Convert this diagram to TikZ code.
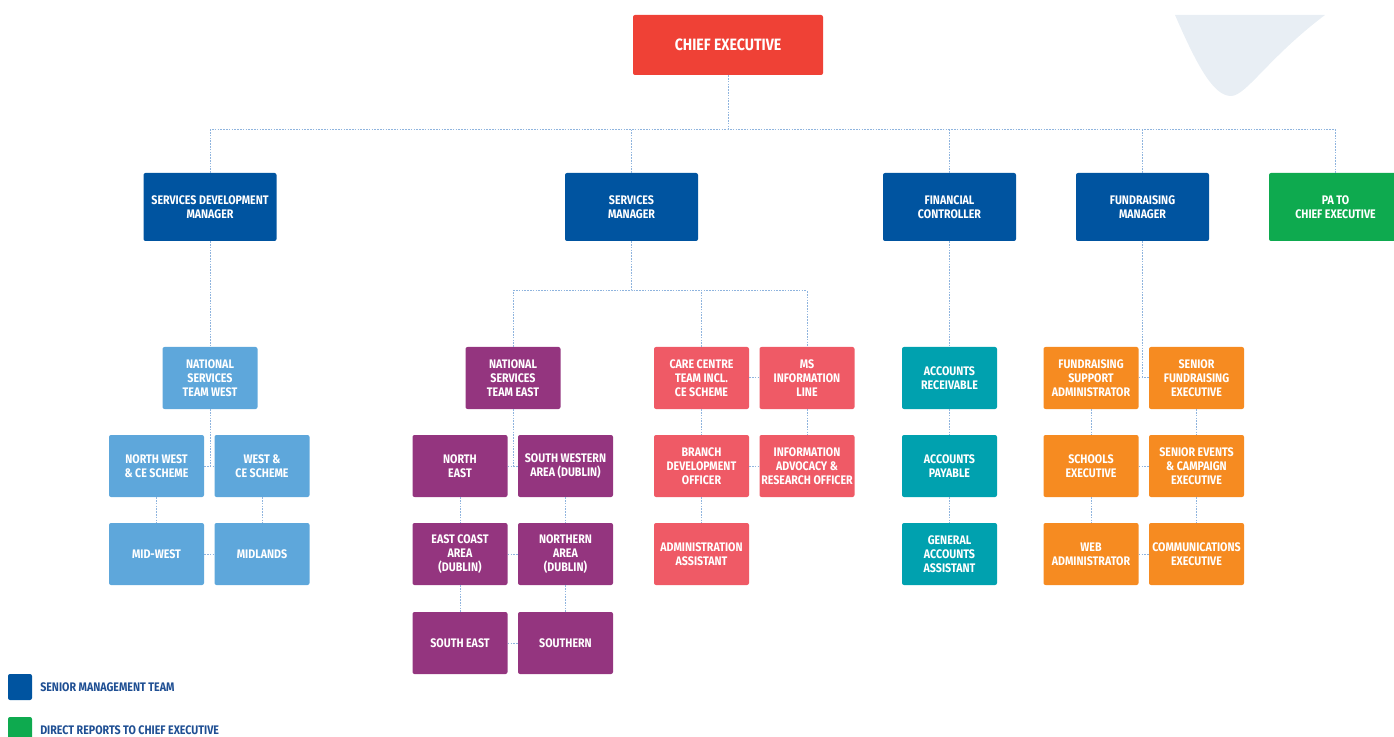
\documentclass[tikz,border=0pt]{standalone}
\usepackage{fontspec}
\usepackage{xcolor}
\newfontfamily\orgfont[FakeStretch=0.86]{Fira Sans}

\definecolor{ceRed}{HTML}{EF4136}
\definecolor{smtBlue}{HTML}{0054A0}
\definecolor{westBlue}{HTML}{5EA7DB}
\definecolor{eastPurple}{HTML}{94357F}
\definecolor{careRed}{HTML}{EF5A66}
\definecolor{finTeal}{HTML}{00A1AF}
\definecolor{fundOrange}{HTML}{F68B21}
\definecolor{paGreen}{HTML}{0EAA4F}
\definecolor{linkBlue}{HTML}{8FB4DE}
\definecolor{capeGrey}{HTML}{E8EEF4}
\definecolor{keyText}{HTML}{1F4F93}

\begin{document}
\begin{tikzpicture}[x=0.75pt,y=0.75pt,yscale=-1,xscale=1,
    box/.style={rounded corners=1.5pt, text=white, align=center, inner sep=1pt,
        font=\orgfont\bfseries\fontsize{9.3}{10.3}\selectfont},
    mgr/.style={box, fill=smtBlue, minimum width=99.75pt, minimum height=51pt},
    unit/.style={box, minimum width=71.25pt, minimum height=46.5pt},
    link/.style={draw=linkBlue, line width=0.75pt, dash pattern=on 1.2pt off 0.9pt},
    keybox/.style={rounded corners=1.5pt, inner sep=0pt, minimum width=18pt, minimum height=19.5pt},
    keylabel/.style={anchor=west, inner sep=0pt, text=keyText,
        font=\orgfont\bfseries\fontsize{9.3}{10.3}\selectfont}]
\useasboundingbox (0,0) rectangle (1394,737);

%Shape: Cape [id:dp01]
\fill[capeGrey] (1175,15) .. controls (1198,68) and (1214,96) .. (1231,96) .. controls (1246,96) and (1268,58) .. (1325,15) -- cycle ;

% Chief executive
\node[box, fill=ceRed, minimum width=142.5pt, minimum height=45pt,
    font=\orgfont\bfseries\fontsize{12.3}{14}\selectfont] (ce) at (728,45) {CHIEF EXECUTIVE};
\coordinate (bus) at (728,130);

% Senior management team
\node[mgr] (sdm) at (210,207) {SERVICES DEVELOPMENT\\MANAGER};
\node[mgr] (sm) at (631.5,207) {SERVICES\\MANAGER};
\node[mgr] (fc) at (949.5,207) {FINANCIAL\\CONTROLLER};
\node[mgr] (fm) at (1142.5,207) {FUNDRAISING\\MANAGER};
\node[mgr, fill=paGreen] (pa) at (1335.5,207) {PA TO\\CHIEF EXECUTIVE};

% Services development
\node[unit, fill=westBlue] (nstw) at (210,378) {NATIONAL\\SERVICES\\TEAM WEST};
\node[unit, fill=westBlue] (nw) at (156.5,466) {NORTH WEST\\\& CE SCHEME};
\node[unit, fill=westBlue] (w) at (262,466) {WEST \&\\CE SCHEME};
\node[unit, fill=westBlue] (mw) at (156.5,554) {MID-WEST};
\node[unit, fill=westBlue] (mid) at (262,554) {MIDLANDS};

% Services
\coordinate (smbus) at (631.5,291);
\node[unit, fill=eastPurple] (nste) at (513,378) {NATIONAL\\SERVICES\\TEAM EAST};
\node[unit, fill=eastPurple] (ne) at (460,466) {NORTH\\EAST};
\node[unit, fill=eastPurple] (swa) at (565.5,466) {SOUTH WESTERN\\AREA (DUBLIN)};
\node[unit, fill=eastPurple] (eca) at (460,554) {EAST COAST\\AREA\\(DUBLIN)};
\node[unit, fill=eastPurple] (na) at (565.5,554) {NORTHERN\\AREA\\(DUBLIN)};
\node[unit, fill=eastPurple] (se) at (460,643) {SOUTH EAST};
\node[unit, fill=eastPurple] (so) at (565.5,643) {SOUTHERN};
\node[unit, fill=careRed] (cc) at (701.5,378) {CARE CENTRE\\TEAM INCL.\\CE SCHEME};
\node[unit, fill=careRed] (ms) at (807,378) {MS\\INFORMATION\\LINE};
\node[unit, fill=careRed] (bdo) at (701.5,466) {BRANCH\\DEVELOPMENT\\OFFICER};
\node[unit, fill=careRed] (iaro) at (807,466) {INFORMATION\\ADVOCACY \&\\RESEARCH OFFICER};
\node[unit, fill=careRed] (aa) at (701.5,554) {ADMINISTRATION\\ASSISTANT};

% Finance
\node[unit, fill=finTeal] (ar) at (949.5,378) {ACCOUNTS\\RECEIVABLE};
\node[unit, fill=finTeal] (ap) at (949.5,466) {ACCOUNTS\\PAYABLE};
\node[unit, fill=finTeal] (gaa) at (949.5,554) {GENERAL\\ACCOUNTS\\ASSISTANT};

% Fundraising
\node[unit, fill=fundOrange] (fsa) at (1091,378) {FUNDRAISING\\SUPPORT\\ADMINISTRATOR};
\node[unit, fill=fundOrange] (sfe) at (1196.5,378) {SENIOR\\FUNDRAISING\\EXECUTIVE};
\node[unit, fill=fundOrange] (sch) at (1091,466) {SCHOOLS\\EXECUTIVE};
\node[unit, fill=fundOrange] (sece) at (1196.5,466) {SENIOR EVENTS\\\& CAMPAIGN\\EXECUTIVE};
\node[unit, fill=fundOrange] (wa) at (1091,554) {WEB\\ADMINISTRATOR};
\node[unit, fill=fundOrange] (cce) at (1196.5,554) {COMMUNICATIONS\\EXECUTIVE};

% Connectors
\draw[link] (ce) -- (bus);
\draw[link] (sdm.north) |- (bus) -| (pa.north);
\draw[link] (sm.north) -- (sm.north |- bus);
\draw[link] (fc.north) -- (fc.north |- bus);
\draw[link] (fm.north) -- (fm.north |- bus);

\draw[link] (sdm) -- (nstw);
\draw[link] (nstw.south) -- (nstw.south |- nw.east);
\draw[link] (nw) -- (w);
\draw[link] (nw) -- (mw);
\draw[link] (w) -- (mid);
\draw[link] (mw) -- (mid);

\draw[link] (sm) -- (smbus);
\draw[link] (nste.north) |- (smbus) -| (ms.north);
\draw[link] (cc.north) -- (cc.north |- smbus);
\draw[link] (nste.south) -- (nste.south |- ne.east);
\draw[link] (ne) -- (swa);
\draw[link] (ne) -- (eca);
\draw[link] (swa) -- (na);
\draw[link] (eca) -- (na);
\draw[link] (eca) -- (se);
\draw[link] (na) -- (so);
\draw[link] (se) -- (so);
\draw[link] (cc) -- (ms);
\draw[link] (cc) -- (bdo);
\draw[link] (ms) -- (iaro);
\draw[link] (bdo) -- (iaro);
\draw[link] (bdo) -- (aa);

\draw[link] (fc) -- (ar);
\draw[link] (ar) -- (ap);
\draw[link] (ap) -- (gaa);

\draw[link] (fm.south) -- (fm.south |- fsa.east);
\draw[link] (fsa) -- (sfe);
\draw[link] (fsa) -- (sch);
\draw[link] (sfe) -- (sece);
\draw[link] (sch) -- (sece);
\draw[link] (sch) -- (wa);
\draw[link] (sece) -- (cce);
\draw[link] (wa) -- (cce);

% Key
\node[keybox, fill=smtBlue] (keysmt) at (20,687) {};
\node[keylabel] (keysmtlabel) at (40,687) {SENIOR MANAGEMENT TEAM};
\node[keybox, fill=paGreen] (keydr) at (20,730) {};
\node[keylabel] (keydrlabel) at (40,730) {DIRECT REPORTS TO CHIEF EXECUTIVE};

\end{tikzpicture}
\end{document}
